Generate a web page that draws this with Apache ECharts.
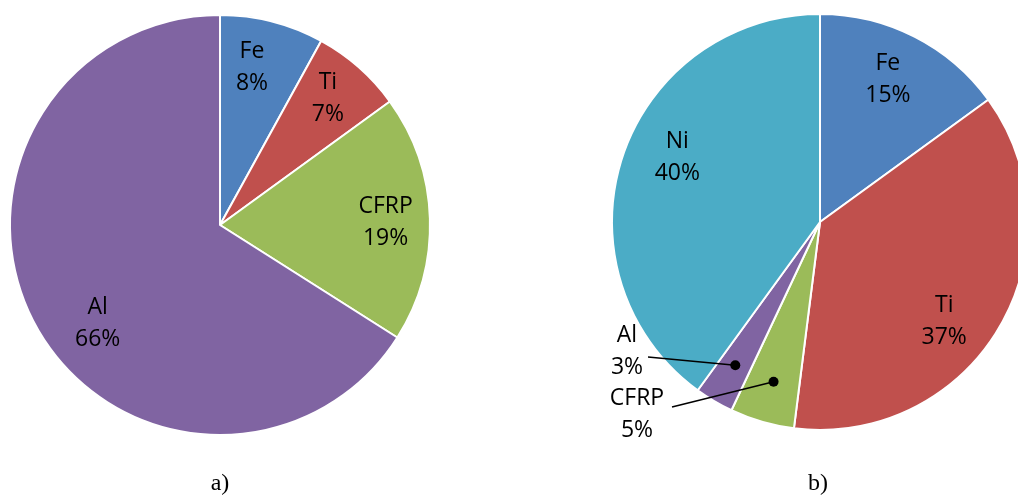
<!DOCTYPE html>
<html lang="en">
<head>
    <meta charset="UTF-8">
    <title>Material shares</title>
    <script src="https://cdn.jsdelivr.net/npm/echarts@6/dist/echarts.min.js"></script>
    <style>html, body { margin: 0; padding: 0; background: #fff; }</style>
</head>
<body>
    <div id="main" style="width: 1018px; height: 495px;"></div>
    <script type="text/javascript">
        // chart a)
        const namesA = ['Fe', 'Ti', 'CFRP', 'Al'];
        const valuesA = [8, 7, 19, 66];
        // chart b)
        const namesB = ['Fe', 'Ti', 'CFRP', 'Al', 'Ni'];
        const valuesB = [15, 37, 5, 3, 40];
        const captions = ['a)', 'b)'];
        // slices of b) whose label sits outside with a leader line
        const calloutsB = ['CFRP', 'Al'];

        const colorOf = { Fe: '#4f81bd', Ti: '#c0504d', CFRP: '#9bbb59', Al: '#8064a2', Ni: '#4bacc6' };
        const font = '"Open Sans", sans-serif';

        const centerA = [220, 225], rA = 210;
        const centerB = [820, 222], rB = 208;
        const dotRatio = 0.8;   // leader lines start at 80% of the radius

        // small nudges of the inside labels (Excel "best fit" is not exactly mid-angle)
        const nudgeA = { Fe: [-9, 2], Ti: [-1, -3], CFRP: [1, 3], Al: [22, 19] };
        const nudgeB = { Fe: [-5, 1], Ti: [-14, 18], Ni: [10, -15] };

        // label block centre and line end for the callouts (pixels)
        const calloutPos = {
            Al: { x: 627, y: 351, lx: 648, ly: 357 },
            CFRP: { x: 637, y: 414, lx: 672, ly: 407 }
        };

        const labelText = { fontFamily: font, fontSize: 23, lineHeight: 32, color: '#000' };
        const fmt = p => p.name + '\n' + Math.round(p.percent) + '%';

        function piePair(names, values, center, r, ringInner, skip, nudge) {
            const main = {
                type: 'pie', center: center, radius: r, startAngle: 90, clockwise: true,
                silent: true, animation: false,
                itemStyle: { borderColor: '#fff', borderWidth: 2 },
                label: { show: false }, labelLine: { show: false },
                data: names.map((n, i) => ({ name: n, value: values[i], itemStyle: { color: colorOf[n] } }))
            };
            // transparent ring only used to put the labels at ~77% of the radius
            const ring = {
                type: 'pie', center: center, radius: [r * ringInner, r], startAngle: 90, clockwise: true,
                silent: true, animation: false, z: 3,
                itemStyle: { color: 'transparent', borderWidth: 0 },
                label: Object.assign({ show: true, position: 'inside', formatter: fmt }, labelText),
                labelLine: { show: false },
                labelLayout: function (params) {
                    const d = nudge[names[params.dataIndex]];
                    return d ? { dx: d[0], dy: d[1] } : {};
                },
                data: names.map((n, i) => ({ name: n, value: values[i], label: { show: !skip.includes(n) } }))
            };
            return [main, ring];
        }

        let cum = 0;
        const midB = valuesB.map(v => { const m = cum + v / 2; cum += v; return m; });
        const totalB = cum;

        const myChart = echarts.init(document.getElementById('main'));

        const option = {
            animation: false,
            polar: { center: centerB, radius: rB },
            angleAxis: { type: 'value', min: 0, max: totalB, startAngle: 90, clockwise: true, show: false },
            radiusAxis: { type: 'value', min: 0, max: 1, show: false },
            graphic: [
                {
                    type: 'text', x: centerA[0], y: 484,
                    style: { text: captions[0], font: '24px "Liberation Serif", serif', fill: '#000', align: 'center', verticalAlign: 'middle' }
                },
                {
                    type: 'text', x: 818, y: 484,
                    style: { text: captions[1], font: '24px "Liberation Serif", serif', fill: '#000', align: 'center', verticalAlign: 'middle' }
                }
            ],
            series: [
                ...piePair(namesA, valuesA, centerA, rA, 0.54, [], nudgeA),
                ...piePair(namesB, valuesB, centerB, rB, 0.515, calloutsB, nudgeB),
                {
                    // invisible inner pie, gives the leader-line start points
                    type: 'pie', center: centerB, radius: rB * dotRatio, startAngle: 90, clockwise: true,
                    silent: true, animation: false, avoidLabelOverlap: false, z: 4,
                    itemStyle: { color: 'transparent', borderWidth: 0 },
                    label: Object.assign({ position: 'outside', formatter: fmt }, labelText),
                    labelLine: { show: true, length: 10, length2: 10, lineStyle: { color: '#000', width: 1.6 } },
                    labelLayout: function (params) {
                        const p = calloutPos[namesB[params.dataIndex]];
                        if (!p || !params.labelLinePoints) return {};
                        return {
                            x: p.x, y: p.y, align: 'center', verticalAlign: 'middle',
                            labelLinePoints: [params.labelLinePoints[0], [p.lx, p.ly]]
                        };
                    },
                    data: namesB.map((n, i) => ({
                        name: n, value: valuesB[i],
                        label: { show: calloutsB.includes(n) },
                        labelLine: { show: calloutsB.includes(n) }
                    }))
                },
                {
                    // black dots at the start of the leader lines
                    type: 'scatter', coordinateSystem: 'polar', silent: true, z: 6,
                    symbolSize: 10, itemStyle: { color: '#000', opacity: 1 },
                    data: calloutsB.map(n => [dotRatio, midB[namesB.indexOf(n)]])
                }
            ]
        };

        myChart.setOption(option);
    </script>
</body>
</html>
